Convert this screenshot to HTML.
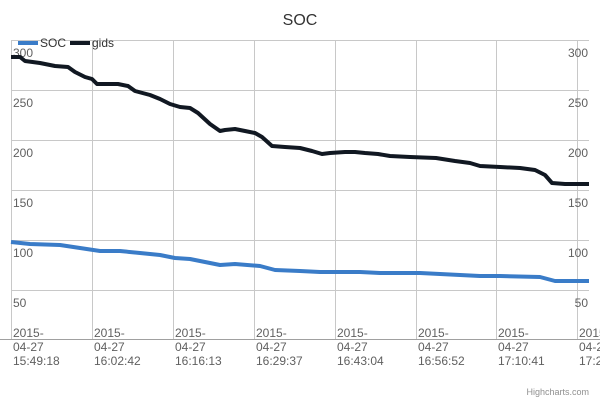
<!DOCTYPE html>
<html><head><meta charset="utf-8"><style>
html,body{margin:0;padding:0;background:#fff;}
svg{display:block;font-family:"Liberation Sans","DejaVu Sans",sans-serif;}
</style></head><body>
<svg width="600" height="400" viewBox="0 0 600 400">
<rect width="600" height="400" fill="#fff"/>
<text x="300" y="25" text-anchor="middle" font-size="16" fill="#333">SOC</text>
<g stroke="#c8c8c8" stroke-width="1">
<line x1="11" y1="40.5" x2="589" y2="40.5"/>
<line x1="11" y1="90.5" x2="589" y2="90.5"/>
<line x1="11" y1="140.5" x2="589" y2="140.5"/>
<line x1="11" y1="190.5" x2="589" y2="190.5"/>
<line x1="11" y1="240.5" x2="589" y2="240.5"/>
<line x1="11" y1="290.5" x2="589" y2="290.5"/>
<line x1="11.5" y1="40" x2="11.5" y2="340"/>
<line x1="92.5" y1="40" x2="92.5" y2="340"/>
<line x1="173.5" y1="40" x2="173.5" y2="340"/>
<line x1="254.5" y1="40" x2="254.5" y2="340"/>
<line x1="335.5" y1="40" x2="335.5" y2="340"/>
<line x1="416.5" y1="40" x2="416.5" y2="340"/>
<line x1="496.5" y1="40" x2="496.5" y2="340"/>
<line x1="577.5" y1="40" x2="577.5" y2="340"/>
</g>
<line x1="0" y1="339.5" x2="600" y2="339.5" stroke="#a0a0a0"/>
<g font-size="12" fill="#606060">
<text x="13" y="57">300</text><text x="13" y="107">250</text><text x="13" y="157">200</text>
<text x="13" y="207">150</text><text x="13" y="257">100</text><text x="13" y="307">50</text>
</g>
<g font-size="12" fill="#606060" text-anchor="end">
<text x="588" y="57">300</text><text x="588" y="107">250</text><text x="588" y="157">200</text>
<text x="588" y="207">150</text><text x="588" y="257">100</text><text x="588" y="307">50</text>
</g>
<g font-size="12" fill="#606060">
<text x="13" y="337">2015-</text><text x="13" y="351">04-27</text><text x="13" y="365">15:49:18</text>
<text x="94" y="337">2015-</text><text x="94" y="351">04-27</text><text x="94" y="365">16:02:42</text>
<text x="175" y="337">2015-</text><text x="175" y="351">04-27</text><text x="175" y="365">16:16:13</text>
<text x="256" y="337">2015-</text><text x="256" y="351">04-27</text><text x="256" y="365">16:29:37</text>
<text x="337" y="337">2015-</text><text x="337" y="351">04-27</text><text x="337" y="365">16:43:04</text>
<text x="418" y="337">2015-</text><text x="418" y="351">04-27</text><text x="418" y="365">16:56:52</text>
<text x="498" y="337">2015-</text><text x="498" y="351">04-27</text><text x="498" y="365">17:10:41</text>
<text x="579" y="337">2015-</text><text x="579" y="351">04-27</text><text x="579" y="365">17:2</text>
</g>
<text x="589" y="395" text-anchor="end" font-size="9" fill="#909090">Highcharts.com</text>
<polyline fill="none" stroke="#3a7cc8" stroke-width="4" stroke-linejoin="round" points="11,242 30,244 60,245 80,248 100,251 120,251 140,253 160,255 175,258 190,259 205,262 220,265 235,264 260,266 275,270 300,271 320,272 335,272 360,272 380,273 420,273 440,274 460,275 480,276 500,276 540,277 555,281 589,281"/>
<polyline fill="none" stroke="#111822" stroke-width="4" stroke-linejoin="round" points="11,57 20,57 25,61 40,63 55,66 68,67 75,72 85,77 92,79 97,84 103,84 118,84 128,86 135,91 150,95 160,99 170,104 180,107 190,108 198,113 210,124 220,131 225,130 235,129 245,131 255,133 262,137 272,146 285,147 300,148 312,151 322,154 330,153 345,152 355,152 365,153 378,154 390,156 410,157 436,158 455,161 470,163 480,166 500,167 520,168 535,170 545,175 552,183 565,184 589,184"/>
<rect x="18" y="41" width="20" height="4" fill="#3a7cc8"/>
<text x="40" y="47" font-size="12" fill="#333">SOC</text>
<rect x="70" y="41" width="20" height="4" fill="#111822"/>
<text x="92" y="47" font-size="12" fill="#333">gids</text>
</svg>
</body></html>
